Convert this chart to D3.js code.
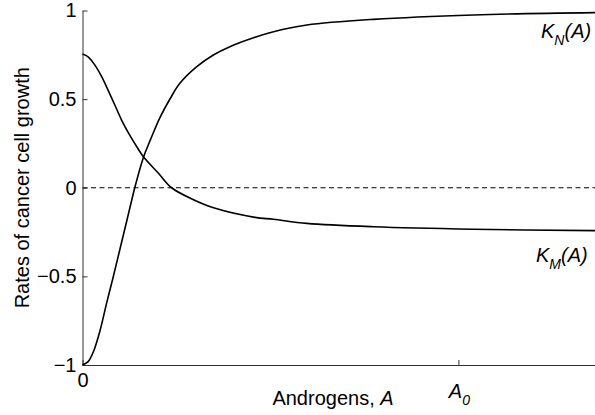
<!DOCTYPE html>
<html>
<head>
<meta charset="utf-8">
<script src="https://cdn.jsdelivr.net/npm/d3@7"></script>
<style>
  body { margin: 0; background: #fff; }
  text { font-family: "Liberation Sans", Arial, Helvetica, sans-serif; }
</style>
</head>
<body>
<script>
const aM = [0, 0.015, 0.033, 0.051, 0.068, 0.086, 0.104, 0.126, 0.149, 0.162, 0.202, 0.237, 0.291, 0.353, 0.459, 0.508, 0.597, 0.774, 1.04, 1.366];
const kM = [0.755, 0.739, 0.692, 0.627, 0.551, 0.467, 0.382, 0.295, 0.216, 0.175, 0.082, 0.0, -0.063, -0.116, -0.167, -0.178, -0.201, -0.22, -0.234, -0.242];

const aN = [0, 0.015, 0.029, 0.047, 0.064, 0.082, 0.1, 0.118, 0.131, 0.139, 0.162, 0.18, 0.206, 0.233, 0.259, 0.304, 0.348, 0.392, 0.459, 0.508, 0.597, 0.774, 1.04, 1.366];
const kN = [-1, -0.981, -0.925, -0.803, -0.652, -0.501, -0.343, -0.185, -0.069, 0.0, 0.171, 0.267, 0.396, 0.502, 0.589, 0.683, 0.749, 0.796, 0.849, 0.88, 0.918, 0.95, 0.975, 0.988];

const yTicks = [-1, -0.5, 0, 0.5, 1];
const xTicks = [0, 1];   // 0 and A0

const width = 595, height = 415;
const svg = d3.select("body").append("svg")
    .attr("width", width)
    .attr("height", height);

const x = d3.scaleLinear().domain([0, 1.366]).range([82.5, 596]);
const y = d3.scaleLinear().domain([-1, 1]).range([365, 10.5]);

// zero reference line
svg.append("line")
    .attr("x1", x(0)).attr("x2", x(1.366))
    .attr("y1", y(0)).attr("y2", y(0))
    .attr("stroke", "#000")
    .attr("stroke-width", 1)
    .attr("stroke-dasharray", "5,3.5");

// axes
const yAxis = svg.append("g")
    .attr("transform", `translate(${x(0)},0)`)
    .call(d3.axisLeft(y).tickValues(yTicks).tickFormat(d3.format("~g"))
        .tickSizeInner(-5).tickSizeOuter(0).tickPadding(6));

const xAxis = svg.append("g")
    .attr("transform", `translate(0,${y(-1)})`)
    .call(d3.axisBottom(x).tickValues(xTicks).tickFormat(d => d === 0 ? "0" : "")
        .tickSizeInner(-5).tickSizeOuter(0).tickPadding(8));

[yAxis, xAxis].forEach(g => {
  g.selectAll("path, line").attr("stroke", "#333");
  g.selectAll("text").attr("font-size", 20).attr("fill", "#000")
      .attr("font-family", '"Liberation Sans", Arial, sans-serif');
});

// A0 tick label
const a0 = svg.append("text")
    .attr("x", x(1) + 1)
    .attr("y", 398)
    .attr("text-anchor", "middle")
    .attr("font-size", 20)
    .attr("font-style", "italic");
a0.append("tspan").text("A");
a0.append("tspan").attr("font-size", 14).attr("dy", 7).text("0");

// curves
const line = d3.line()
    .x(d => x(d[0]))
    .y(d => y(d[1]))
    .curve(d3.curveCatmullRom.alpha(0.5));

svg.append("path")
    .datum(aN.map((a, i) => [a, kN[i]]))
    .attr("d", line)
    .attr("fill", "none")
    .attr("stroke", "#000")
    .attr("stroke-width", 1.6);

svg.append("path")
    .datum(aM.map((a, i) => [a, kM[i]]))
    .attr("d", line)
    .attr("fill", "none")
    .attr("stroke", "#000")
    .attr("stroke-width", 1.6);

// curve labels
function kLabel(px, py, sub) {
  const t = svg.append("text")
      .attr("x", px).attr("y", py)
      .attr("font-size", 20)
      .attr("font-style", "italic");
  t.append("tspan").text("K");
  t.append("tspan").attr("font-size", 14).attr("dy", 7).text(sub);
  t.append("tspan").attr("dy", -7).text("(A)");
}
kLabel(541, 38, "N");
kLabel(536, 262, "M");

// axis titles
const xt = svg.append("text")
    .attr("x", 333).attr("y", 405)
    .attr("text-anchor", "middle")
    .attr("font-size", 20);
xt.append("tspan").text("Androgens, ");
xt.append("tspan").attr("font-style", "italic").text("A");

svg.append("text")
    .attr("transform", `translate(29,${(y(1) + y(-1)) / 2}) rotate(-90)`)
    .attr("text-anchor", "middle")
    .attr("font-size", 20)
    .text("Rates of cancer cell growth");
</script>
</body>
</html>
